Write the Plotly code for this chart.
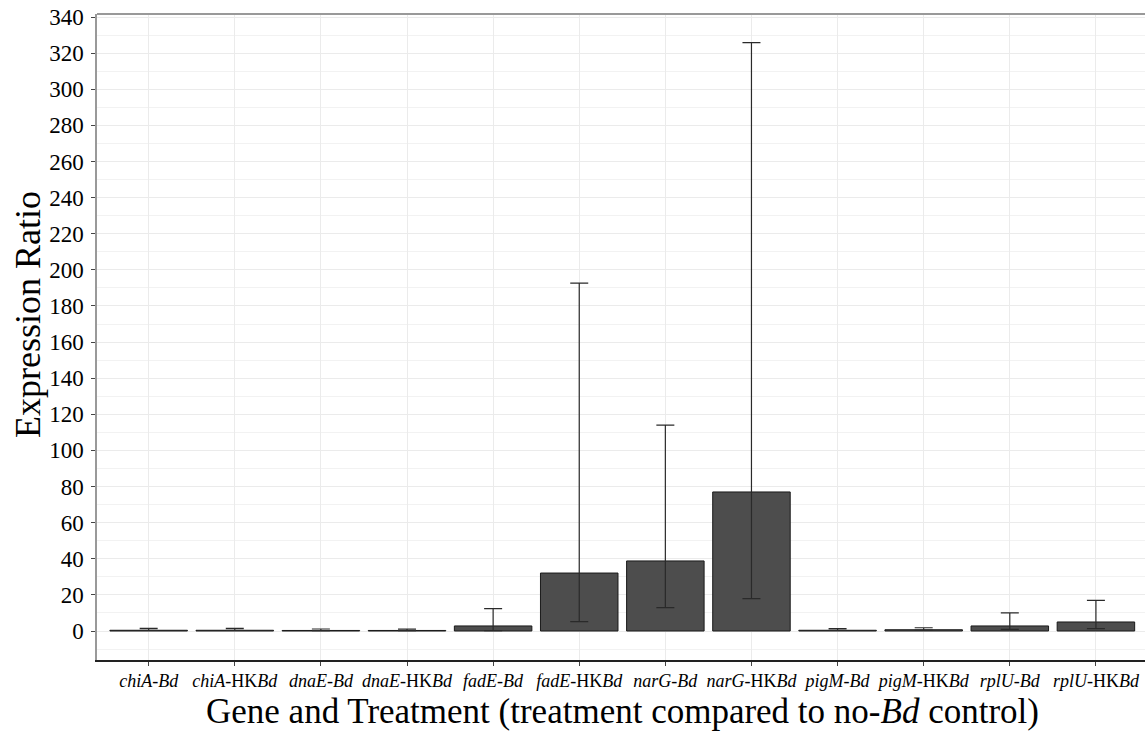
import plotly.graph_objects as go

categories = ["<i>chiA</i>-<i>Bd</i>", "<i>chiA</i>-HK<i>Bd</i>",
              "<i>dnaE</i>-<i>Bd</i>", "<i>dnaE</i>-HK<i>Bd</i>",
              "<i>fadE</i>-<i>Bd</i>", "<i>fadE</i>-HK<i>Bd</i>",
              "<i>narG</i>-<i>Bd</i>", "<i>narG</i>-HK<i>Bd</i>",
              "<i>pigM</i>-<i>Bd</i>", "<i>pigM</i>-HK<i>Bd</i>",
              "<i>rplU</i>-<i>Bd</i>", "<i>rplU</i>-HK<i>Bd</i>"]
ratio = [0.4, 0.4, 0.3, 0.3, 2.8, 32.1, 38.8, 77.0, 0.4, 0.7, 2.8, 5.0]
upper = [1.5, 1.5, 1.1, 1.0, 12.4, 192.7, 114.0, 325.8, 1.3, 1.8, 10.0, 17.0]
lower = [0.3, 0.3, 0.2, 0.2, 0.2, 5.2, 12.9, 17.9, 0.3, 0.4, 0.9, 1.3]

x_idx = list(range(len(categories)))
err_plus = [u - r for u, r in zip(upper, ratio)]
err_minus = [r - l for r, l in zip(ratio, lower)]

fig = go.Figure()
fig.add_trace(go.Bar(
    x=x_idx, y=ratio, width=0.9,
    marker=dict(color="#4d4d4d", line=dict(color="#1a1a1a", width=1)),
    error_y=dict(type="data", symmetric=False, array=err_plus, arrayminus=err_minus,
                 color="#2a2a2a", thickness=1.2, width=9),
    showlegend=False,
))

serif = "Liberation Serif, Times New Roman, serif"
fig.update_layout(
    width=1145, height=731,
    margin=dict(l=97, r=0, t=14, b=71),
    plot_bgcolor="white", paper_bgcolor="white",
    font=dict(family=serif, color="black"),
    bargap=0.1,
    xaxis=dict(
        range=[-0.6, 11.57], tickmode="array", tickvals=x_idx, ticktext=categories,
        tickfont=dict(size=18, family=serif, color="black"),
        showgrid=True, gridcolor="#ebebeb", gridwidth=1,
        showline=True, linecolor="#222222", linewidth=1.5, mirror=False,
        ticks="outside", ticklen=4, tickcolor="#444444",
        ticklabelstandoff=0,
        zeroline=False,
    ),
    yaxis=dict(
        range=[-16.06, 341.7], tickmode="linear", tick0=0, dtick=20,
        tickfont=dict(size=23, family=serif, color="black"),
        showgrid=True, gridcolor="#ebebeb", gridwidth=1,
        minor=dict(dtick=10, showgrid=True, gridcolor="#f2f2f2", gridwidth=1, ticks=""),
        showline=True, linecolor="#999999", linewidth=1.5,
        ticks="outside", ticklen=4, tickcolor="#444444",
        ticklabelstandoff=3,
        zeroline=False,
    ),
    annotations=[
        dict(text="Expression Ratio", textangle=-90,
             xref="paper", yref="paper", x=(28 - 97) / 1048, y=(660 - 315) / 646,
             xanchor="center", yanchor="middle", showarrow=False,
             font=dict(size=36, family=serif, color="black")),
        dict(text="Gene and Treatment (treatment compared to no-<i>Bd</i> control)",
             xref="paper", yref="paper", x=(622 - 97) / 1048, y=(660 - 711) / 646,
             xanchor="center", yanchor="middle", showarrow=False,
             font=dict(size=35, family=serif, color="black")),
    ],
)
# top panel border
fig.add_shape(type="line", xref="paper", yref="paper", x0=0, x1=1, y0=1, y1=1,
              line=dict(color="#999999", width=2))

fig.write_html("out.html")
